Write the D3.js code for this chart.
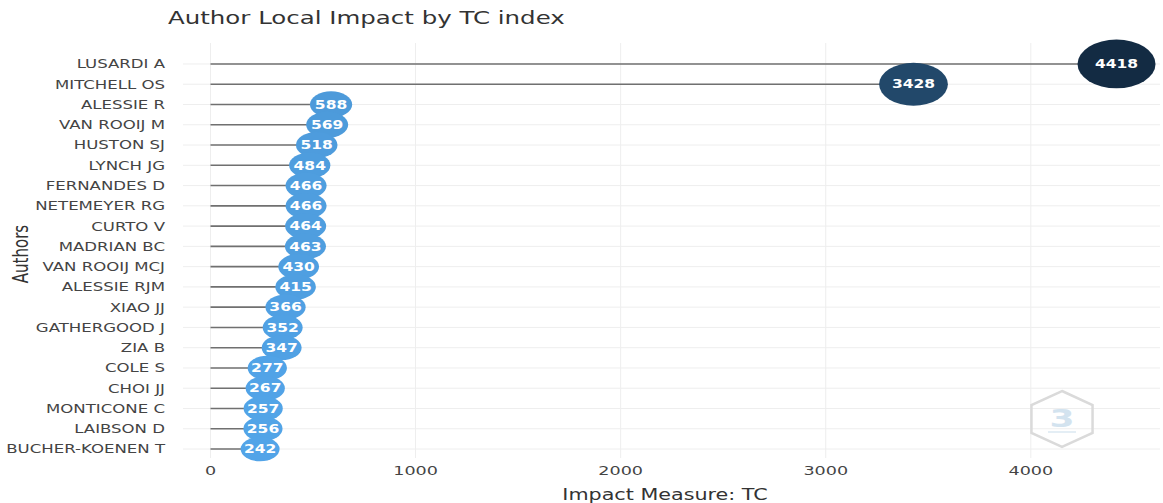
<!DOCTYPE html>
<html><head><meta charset="utf-8">
<script src="https://cdn.jsdelivr.net/npm/d3@7"></script>
<style>body{margin:0;background:#fff}svg{display:block}</style>
</head><body>
<svg id="c" width="1163" height="503"></svg>
<script>
const authors = ["LUSARDI A","MITCHELL OS","ALESSIE R","VAN ROOIJ M","HUSTON SJ","LYNCH JG","FERNANDES D","NETEMEYER RG","CURTO V","MADRIAN BC","VAN ROOIJ MCJ","ALESSIE RJM","XIAO JJ","GATHERGOOD J","ZIA B","COLE S","CHOI JJ","MONTICONE C","LAIBSON D","BUCHER-KOENEN T"];
const tc = [4418,3428,588,569,518,484,466,466,464,463,430,415,366,352,347,277,267,257,256,242];
const xTicks = [0,1000,2000,3000,4000];
const title = "Author Local Impact by TC index";
const xTitle = "Impact Measure: TC";
const yTitle = "Authors";

(function(){
const svg = d3.select("#c");
const pL = 183, pR = 1160, pT = 43, pB = 458;

const x = d3.scaleLinear().domain([-134, 4630]).range([pL, pR]);
const y = d3.scalePoint().domain(authors).range([43.7, 469.3]).padding(1);
const rs = d3.scaleLinear().domain([d3.min(tc), d3.max(tc)]).range([19.5, 39]);
const col = d3.scaleLinear().domain([d3.min(tc), d3.max(tc)]).range(["#52a4e8", "#132B43"]).interpolate(d3.interpolateRgb);

function st(sel, k) {
  sel.each(function() {
    const t = d3.select(this);
    const tx = +t.attr("x") || 0, ty = +t.attr("y") || 0;
    t.attr("x", 0).attr("y", 0).attr("transform", `translate(${tx},${ty}) scale(${k},1)`);
  });
}

// grid
const g = svg.append("g");
g.selectAll("line.h").data(authors).join("line")
  .attr("x1", pL).attr("x2", pR).attr("y1", d => y(d)).attr("y2", d => y(d))
  .attr("stroke", "#eeeeee").attr("stroke-width", 1);
g.selectAll("line.v").data(xTicks).join("line")
  .attr("x1", d => x(d)).attr("x2", d => x(d)).attr("y1", pT).attr("y2", pB)
  .attr("stroke", "#eeeeee").attr("stroke-width", 1);

// watermark
const hx = 1062, hy = 419, hr = 28, hk = 1.4;
const hexPts = d3.range(6).map(i => { const a = Math.PI/3*i - Math.PI/2; return [hx + Math.cos(a)*hr*hk*0.9, hy + Math.sin(a)*hr]; });
svg.append("path").attr("d", d3.line()(hexPts) + "Z").attr("fill", "none").attr("stroke", "#dadada").attr("stroke-width", 2.5);
const wm = svg.append("text").attr("x", hx).attr("y", hy + 8).attr("text-anchor", "middle")
  .attr("font-family", "DejaVu Sans").attr("font-weight", "bold").attr("font-size", 24).attr("fill", "#d3e3ef").text("3");
st(wm, 1.5);
svg.append("line").attr("x1", hx-14).attr("x2", hx+14).attr("y1", hy+13).attr("y2", hy+13).attr("stroke", "#dbe8f2").attr("stroke-width", 1.5);

// x tick labels
const xt = svg.selectAll("text.xt").data(xTicks).join("text")
  .attr("x", d => x(d)).attr("y", 475).attr("text-anchor", "middle")
  .attr("font-family", "DejaVu Sans").attr("font-size", 13).attr("fill", "#444").text(d => d);
st(xt, 1.35);

// y labels
const yl = svg.selectAll("text.yl").data(authors).join("text")
  .attr("x", 165).attr("y", d => y(d) + 4.4).attr("text-anchor", "end")
  .attr("font-family", "DejaVu Sans").attr("font-size", 12).attr("fill", "#444").text(d => d);
st(yl, 1.38);

// segments
const data = authors.map((a, i) => ({a, v: tc[i]}));
svg.selectAll("line.seg").data(data).join("line")
  .attr("x1", x(0)).attr("x2", d => x(d.v)).attr("y1", d => y(d.a)).attr("y2", d => y(d.a))
  .attr("stroke", "#707070").attr("stroke-width", 1.6);

// bubbles
svg.selectAll("ellipse.b").data(data).join("ellipse")
  .attr("cx", d => x(d.v)).attr("cy", d => y(d.a))
  .attr("rx", d => rs(d.v)).attr("ry", d => rs(d.v) / 1.6)
  .attr("fill", d => col(d.v));

const bl = svg.selectAll("text.bl").data(data).join("text")
  .attr("x", d => x(d.v)).attr("y", d => y(d.a) + 4.2).attr("text-anchor", "middle")
  .attr("font-family", "DejaVu Sans").attr("font-weight", "bold").attr("font-size", 11.5)
  .attr("fill", "#ffffff").text(d => d.v);
st(bl, 1.35);

// titles
const tt = svg.append("text").attr("x", 168).attr("y", 24).attr("font-family", "DejaVu Sans")
  .attr("font-size", 18).attr("fill", "#333").text(title);
st(tt, 1.36);
const xT = svg.append("text").attr("x", 665).attr("y", 500).attr("text-anchor", "middle")
  .attr("font-family", "DejaVu Sans").attr("font-size", 15).attr("fill", "#333").text(xTitle);
st(xT, 1.38);
svg.append("text").attr("transform", "translate(28,254) scale(1.4,1) rotate(-90)").attr("text-anchor", "middle")
  .attr("font-family", "DejaVu Sans").attr("font-size", 15).attr("fill", "#333").text(yTitle);
})();
</script>
</body></html>
